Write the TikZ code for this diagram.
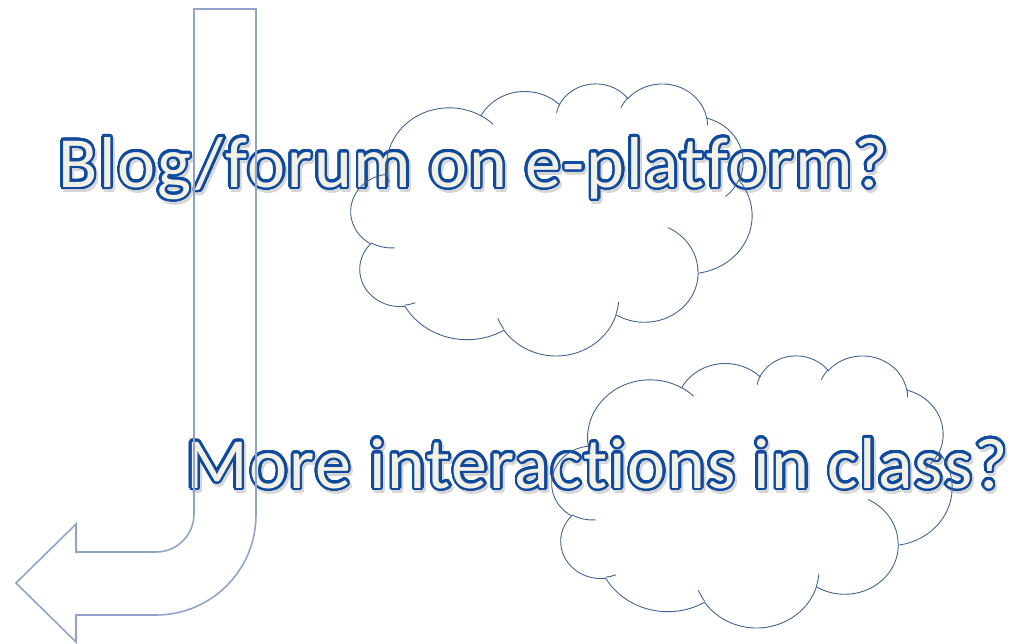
\documentclass[tikz,border=0pt]{standalone}
\usepackage{fontspec}
\setmainfont[Ligatures=NoCommon, LetterSpace=2.5]{Carlito}
\usepackage{xcolor}
\usepackage{tikz}
\usepackage{contour}

\definecolor{cloudblue}{RGB}{64,97,145}
\definecolor{arrowblue}{RGB}{143,164,200}
\definecolor{titleblue}{RGB}{16,74,156}
\definecolor{titlecream}{RGB}{243,240,229}

\contourlength{1.45pt}
\contournumber{32}

% cloud outline in a 43.2 x 43.2 box (y down)
\newcommand{\cloudoutline}{%
  \draw[cloud line] (3.9,14.37)
    foreach \rx/\ry/\st/\sw in {6.753/9.19/-190.4875/123.7805,
      5.333/7.267/-144.1024/89.9452, 4.365/5.945/-145.8079/99.723,
      4.857/6.595/-130.9861/117.2417, 5.333/7.273/-78.7089/109.0269,
      6.775/9.22/-46.2673/130.269, 5.785/7.867/0.625/114.0333,
      6.752/9.215/22.4516/115.1726, 7.72/10.543/66.2426/75.711,
      4.36/5.918/-274.9421/146.7356, 4.345/5.945/-246.8285/152.5189}
    {arc[x radius=\rx, y radius=\ry, start angle={pa(\rx,\ry,\st)},
         delta angle={sweep(\rx,\ry,\st,\sw)}]} -- cycle;
  % inner bumps
  \foreach \px/\py/\rx/\ry/\st/\sw in {4.693/26.177/4.345/5.945/86.742/26.4295,
      6.928/34.899/4.36/5.918/73.6105/11.4475,
      16.478/39.09/6.752/9.215/137.6242/14.0811,
      28.827/34.751/6.752/9.215/6.4533/15.9984,
      34.129/22.954/5.785/7.867/-70.2924/70.9174,
      41.798/15.354/5.333/7.273/30.318/27.7515,
      38.324/5.426/4.857/6.595/-13.7443/14.8589,
      29.078/3.952/4.857/6.595/-149.1815/18.1954,
      22.141/4.72/4.365/5.945/-163.4943/17.6864,
      14.0/5.192/6.753/9.19/-66.707/12.3194,
      4.127/15.789/6.753/9.19/157.6544/11.8582}
    \draw[cloud line] (\px,\py) arc[x radius=\rx, y radius=\ry,
      start angle={pa(\rx,\ry,\st)}, delta angle={sweep(\rx,\ry,\st,\sw)}];
}

\begin{document}
\begin{tikzpicture}[x=0.02cm, y=-0.02cm,
    declare function={pa(\pA,\pB,\pT)=atan2(\pA*sin(\pT),\pB*cos(\pT));
      sweep(\pA,\pB,\pT,\pS)=mod(pa(\pA,\pB,\pT+\pS)-pa(\pA,\pB,\pT)+720,360);},
    cloud line/.style={draw=cloudblue, line width=0.5pt},
    arrow line/.style={draw=arrowblue, line width=0.9pt, line join=miter},
    title/.style={font=\fontsize{41}{49}\selectfont, text=titlecream,
      inner sep=0pt, anchor=base west},
    title shadow/.style={title, text=black!16}]

  \useasboundingbox (0,0) rectangle (1027,643);

  % titles
  \node[title shadow] at (60,190) {\contour{black!16}{Blog/forum on e-platform?}};
  \node[title] (blog) at (58,187) {\contour{titleblue}{Blog/forum on e-platform?}};
  \node[title shadow] at (188,491) {\contour{black!16}{More interactions in class?}};
  \node[title] (more) at (186,488) {\contour{titleblue}{More interactions in class?}};

  % clouds
  \begin{scope}[shift={(351,83)}, xscale=9.282, yscale=6.296]
    \cloudoutline
  \end{scope}
  \begin{scope}[shift={(552,355)}, xscale=9.259, yscale=6.296]
    \cloudoutline
  \end{scope}

  % bent arrow
  \draw[arrow line] (194,9) -- (256,9) -- (256,515)
    arc[start angle=0, end angle=90, radius=100]
    -- (76,615) -- (76,642) -- (16,583) -- (76,524) -- (76,552) -- (156,552)
    arc[start angle=90, end angle=0, radius=38] -- cycle;
\end{tikzpicture}
\end{document}
